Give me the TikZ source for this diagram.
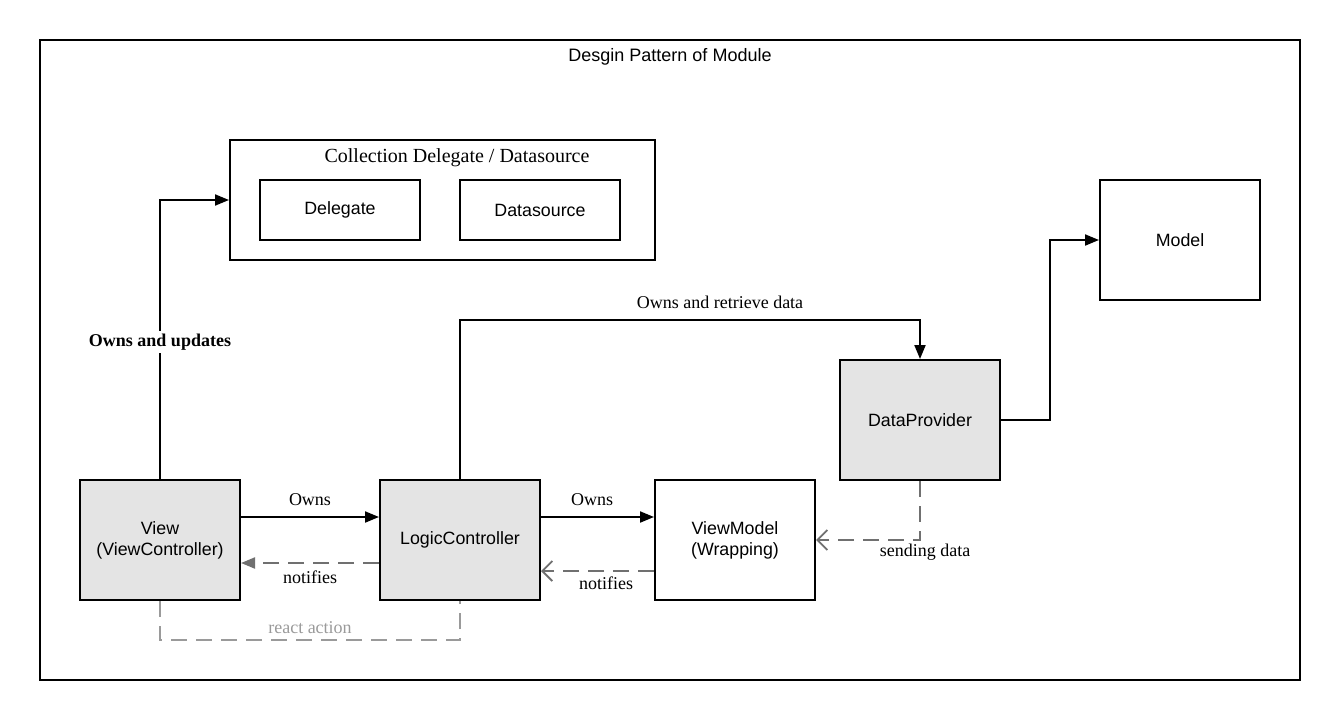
\documentclass[tikz,border=0pt]{standalone}
\usepackage{fontspec}
\setmainfont{Liberation Serif}
\setsansfont{Liberation Sans}
\usetikzlibrary{arrows.meta}
\definecolor{boxgray}{HTML}{E4E4E4}
\definecolor{dashgray}{HTML}{707070}
\definecolor{lightdash}{HTML}{9A9A9A}
\begin{document}
\begin{tikzpicture}[x=1pt,y=-1pt,
  box/.style={draw=black,line width=2pt,minimum width=160pt,minimum height=120pt,inner sep=0pt,align=center,font=\sffamily\fontsize{17.8}{21}\selectfont},
  smallbox/.style={box,minimum height=60pt},
  graybox/.style={box,fill=boxgray},
  conn/.style={line width=2pt,-{Triangle[length=14pt,width=11pt]}},
  dconn/.style={line width=2pt,dashgray,dash pattern=on 16pt off 9pt},
  lbl/.style={font=\fontsize{18}{21}\selectfont,inner sep=1pt}
]
\useasboundingbox (0,0) rectangle (1340,720);
\node[draw=black,line width=1.6pt,minimum width=1260pt,minimum height=640pt,inner sep=0pt] (frame) at (670,360) {};
\node[font=\sffamily\fontsize{18}{21}\selectfont] (title) at (670,57) {Desgin Pattern of Module};

\node[draw=black,line width=2pt,minimum width=425pt,minimum height=120pt,inner sep=0pt] (coll) at (442.5,200) {};
\node[lbl,font=\fontsize{20}{23}\selectfont] (colltitle) at (457,158) {Collection Delegate / Datasource};
\node[smallbox] (delegate) at (340,210) {Delegate};
\node[smallbox] (datasource) at (540,210) {Datasource};

\node[box] (model) at (1180,240) {Model};
\node[graybox] (dp) at (920,420) {DataProvider};
\node[graybox] (view) at (160,540) {View\\(ViewController)};
\node[graybox] (logic) at (460,540) {LogicController};
\node[box] (vm) at (735,540) {ViewModel\\(Wrapping)};

% View -> collection
\coordinate (c1) at (160,200);
\draw[conn] (view.north) -- (c1) -- (coll.west);
\node[lbl,font=\bfseries\fontsize{18}{21}\selectfont,fill=white,inner sep=3pt] (ownsupd) at (160,342) {Owns and updates};

% Logic -> DataProvider
\coordinate (c2) at (460,320);
\coordinate (c3) at (920,320);
\draw[conn] (logic.north) -- (c2) -- (c3) -- (dp.north);
\node[lbl] (ownsret) at (720,302) {Owns and retrieve data};

% DataProvider -> Model
\coordinate (c4) at (1050,420);
\coordinate (c5) at (1050,240);
\draw[conn] (dp.east) -- (c4) -- (c5) -- (model.west);

% Owns arrows
\draw[conn] (view.east |- 0,517) -- (logic.west |- 0,517);
\node[lbl] (owns1) at (310,500) {Owns};
\draw[conn] (logic.east |- 0,517) -- (vm.west |- 0,517);
\node[lbl] (owns2) at (592,500) {Owns};

% notifies (logic -> view)
\draw[dconn,-{Triangle[length=14pt,width=11pt]}] (logic.west |- 0,563) -- (view.east |- 0,563);
\node[lbl] (notif1) at (310,577) {notifies};

% notifies (vm -> logic)
\draw[dconn,-{Straight Barb[length=10pt,width=20pt,line width=1.8pt]}] (vm.west |- 0,571) -- (logic.east |- 0,571);
\node[lbl] (notif2) at (606,583) {notifies};

% sending data
\coordinate (c6) at (920,540);
\draw[dconn,-{Straight Barb[length=10pt,width=20pt,line width=1.8pt]}] (dp.south) -- (c6) -- (vm.east);
\node[lbl] (send) at (925,552) {sending data};

% react action
\coordinate (c7) at (160,640);
\coordinate (c8) at (460,640);
\draw[line width=2pt,lightdash,dash pattern=on 16pt off 9pt] (view.south) -- (c7) -- (c8) -- (logic.south);
\node[lbl,text=lightdash] (react) at (310,628) {react action};
\end{tikzpicture}
\end{document}
